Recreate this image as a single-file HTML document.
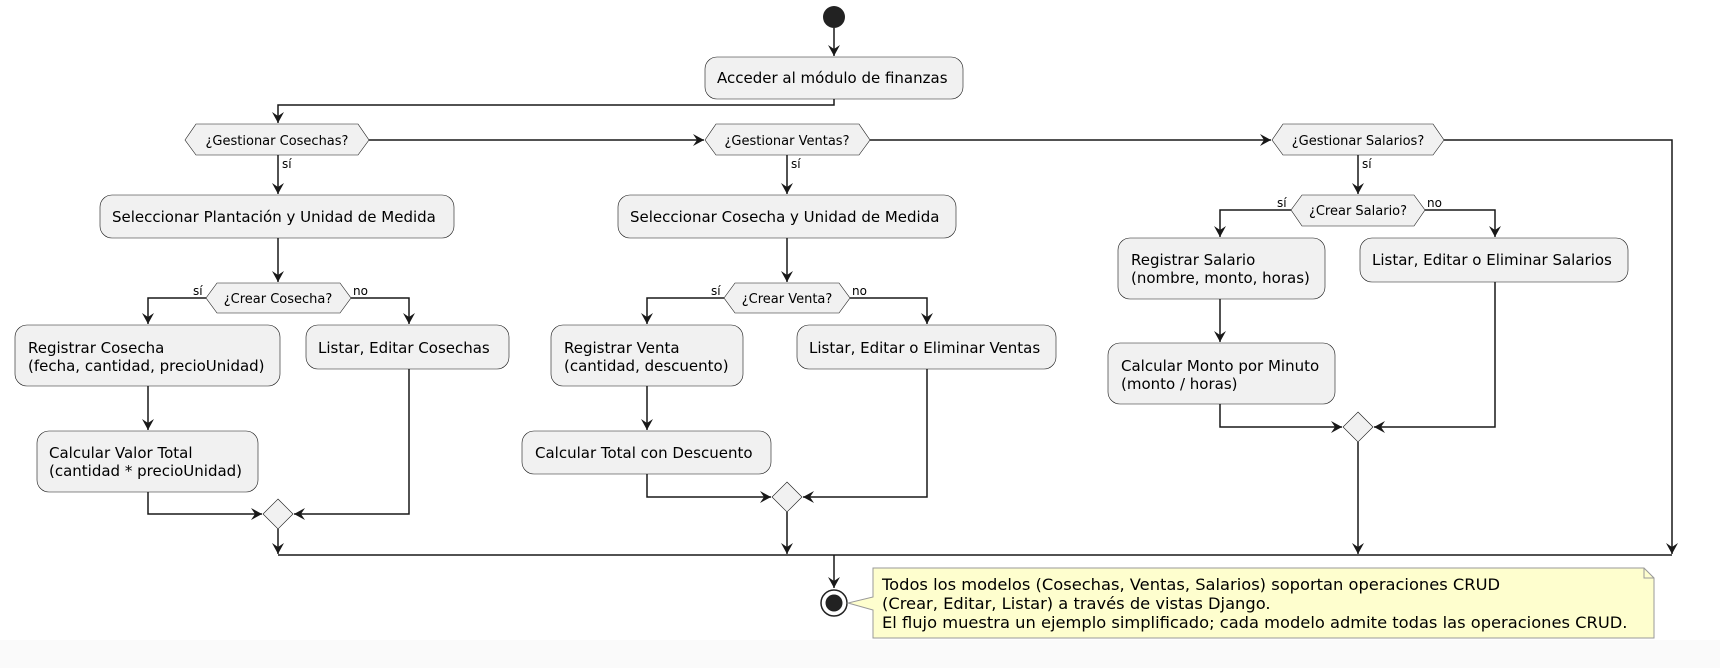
<!DOCTYPE html>
<html><head><meta charset="utf-8"><style>
html,body{margin:0;padding:0;background:#fff}
svg{display:block}
text{font-family:"DejaVu Sans","Liberation Sans",sans-serif;fill:#000}
.p{font-size:15px}
.d{font-size:13px}
.l{font-size:12px}
.n{font-size:16.3px}
</style></head><body>
<svg width="1720" height="668" viewBox="0 0 1720 668" xmlns="http://www.w3.org/2000/svg">
<defs>
<marker id="a" viewBox="0 0 12 12" refX="11" refY="6" markerWidth="12" markerHeight="12" markerUnits="userSpaceOnUse" orient="auto">
<path d="M0,0 L11,6 L0,12 L4,6 Z" fill="#181818"/>
</marker>
</defs>
<rect x="0" y="640" width="1720" height="28" fill="#fafafa"/>
<g stroke="#181818" stroke-width="1.5" fill="none">
<path d="M834,28 V56" marker-end="url(#a)"/>
<path d="M834,99 V105 H278 V123" marker-end="url(#a)"/>
<path d="M369,140 H704" marker-end="url(#a)"/>
<path d="M870,140 H1271" marker-end="url(#a)"/>
<path d="M1444,140 H1672 V554" marker-end="url(#a)"/>
<path d="M278,155 V194" marker-end="url(#a)"/>
<path d="M278,238 V282" marker-end="url(#a)"/>
<path d="M206,298 H148 V324" marker-end="url(#a)"/>
<path d="M351,298 H409 V324" marker-end="url(#a)"/>
<path d="M148,386 V430" marker-end="url(#a)"/>
<path d="M148,492 V514 H262" marker-end="url(#a)"/>
<path d="M409,369 V514 H294" marker-end="url(#a)"/>
<path d="M278,529 V554" marker-end="url(#a)"/>
<path d="M787,155 V194" marker-end="url(#a)"/>
<path d="M787,238 V282" marker-end="url(#a)"/>
<path d="M724,298 H647 V324" marker-end="url(#a)"/>
<path d="M850,298 H927 V324" marker-end="url(#a)"/>
<path d="M647,386 V430" marker-end="url(#a)"/>
<path d="M647,474 V497 H771" marker-end="url(#a)"/>
<path d="M927,369 V497 H803" marker-end="url(#a)"/>
<path d="M787,512 V554" marker-end="url(#a)"/>
<path d="M1358,155 V194" marker-end="url(#a)"/>
<path d="M1291,210 H1220 V237" marker-end="url(#a)"/>
<path d="M1425,210 H1495 V237" marker-end="url(#a)"/>
<path d="M1220,299 V342" marker-end="url(#a)"/>
<path d="M1220,404 V427 H1342" marker-end="url(#a)"/>
<path d="M1495,282 V427 H1374" marker-end="url(#a)"/>
<path d="M1358,442 V554" marker-end="url(#a)"/>
<path d="M278,555 H1672"/>
<path d="M834,555 V588" marker-end="url(#a)"/>
</g>
<circle cx="834" cy="17" r="11" fill="#222"/>
<circle cx="834" cy="603" r="13" fill="#fff" stroke="#222" stroke-width="1.5"/>
<circle cx="834" cy="603" r="8.5" fill="#222"/>
<g fill="#f1f1f1" stroke="#181818" stroke-width="0.6">
<rect x="705" y="57" width="258" height="42" rx="12"/>
<rect x="100" y="195" width="354" height="43" rx="12"/>
<rect x="15" y="325" width="265" height="61" rx="12"/>
<rect x="306" y="325" width="203" height="44" rx="12"/>
<rect x="37" y="431" width="221" height="61" rx="12"/>
<rect x="618" y="195" width="338" height="43" rx="12"/>
<rect x="551" y="325" width="192" height="61" rx="12"/>
<rect x="797" y="325" width="259" height="44" rx="12"/>
<rect x="522" y="431" width="249" height="43" rx="12"/>
<rect x="1118" y="238" width="207" height="61" rx="12"/>
<rect x="1360" y="238" width="268" height="44" rx="12"/>
<rect x="1108" y="343" width="227" height="61" rx="12"/>
<polygon points="185,140 196,124 358,124 369,140 358,155 196,155"/>
<polygon points="705,140 716,124 859,124 870,140 859,155 716,155"/>
<polygon points="1272,140 1283,124 1433,124 1444,140 1433,155 1283,155"/>
<polygon points="206,298 217,283 340,283 351,298 340,313 217,313"/>
<polygon points="724,298 735,283 839,283 850,298 839,313 735,313"/>
<polygon points="1291,210 1302,195 1414,195 1425,210 1414,226 1302,226"/>
<polygon points="278,499 293,514 278,529 263,514"/>
<polygon points="787,482 802,497 787,512 772,497"/>
<polygon points="1358,412 1373,427 1358,442 1343,427"/>
</g>
<path d="M873,568 H1644 L1654,578 V638 H873 V610 L848,603 L873,597 Z" fill="#fefece" stroke="#999" stroke-width="1"/>
<path d="M1644,568 V578 H1654" fill="none" stroke="#999" stroke-width="1"/>
<text class="p" x="717" y="83">Acceder al módulo de finanzas</text>
<text class="d" x="277" y="145" text-anchor="middle">¿Gestionar Cosechas?</text>
<text class="d" x="787" y="145" text-anchor="middle">¿Gestionar Ventas?</text>
<text class="d" x="1358" y="145" text-anchor="middle">¿Gestionar Salarios?</text>
<text class="l" x="282" y="168">sí</text>
<text class="l" x="791" y="168">sí</text>
<text class="l" x="1362" y="168">sí</text>
<text class="p" x="112" y="222">Seleccionar Plantación y Unidad de Medida</text>
<text class="p" x="630" y="222">Seleccionar Cosecha y Unidad de Medida</text>
<text class="d" x="278" y="303" text-anchor="middle">¿Crear Cosecha?</text>
<text class="d" x="787" y="303" text-anchor="middle">¿Crear Venta?</text>
<text class="d" x="1358" y="215" text-anchor="middle">¿Crear Salario?</text>
<text class="l" x="193" y="295">sí</text>
<text class="l" x="353" y="295">no</text>
<text class="l" x="711" y="295">sí</text>
<text class="l" x="852" y="295">no</text>
<text class="l" x="1277" y="207">sí</text>
<text class="l" x="1427" y="207">no</text>
<text class="p" x="28" y="353">Registrar Cosecha</text>
<text class="p" x="28" y="371">(fecha, cantidad, precioUnidad)</text>
<text class="p" x="318" y="353">Listar, Editar  Cosechas</text>
<text class="p" x="49" y="458">Calcular Valor Total</text>
<text class="p" x="49" y="476">(cantidad * precioUnidad)</text>
<text class="p" x="564" y="353">Registrar Venta</text>
<text class="p" x="564" y="371">(cantidad, descuento)</text>
<text class="p" x="809" y="353">Listar, Editar o Eliminar Ventas</text>
<text class="p" x="535" y="458">Calcular Total con Descuento</text>
<text class="p" x="1131" y="265">Registrar Salario</text>
<text class="p" x="1131" y="283">(nombre, monto, horas)</text>
<text class="p" x="1372" y="265">Listar, Editar o Eliminar Salarios</text>
<text class="p" x="1121" y="371">Calcular Monto por Minuto</text>
<text class="p" x="1121" y="389">(monto / horas)</text>
<text class="n" x="882" y="590">Todos los modelos (Cosechas, Ventas, Salarios) soportan operaciones CRUD</text>
<text class="n" x="882" y="609">(Crear, Editar, Listar) a través de vistas Django.</text>
<text class="n" x="882" y="628">El flujo muestra un ejemplo simplificado; cada modelo admite todas las operaciones CRUD.</text>
</svg>
</body></html>
